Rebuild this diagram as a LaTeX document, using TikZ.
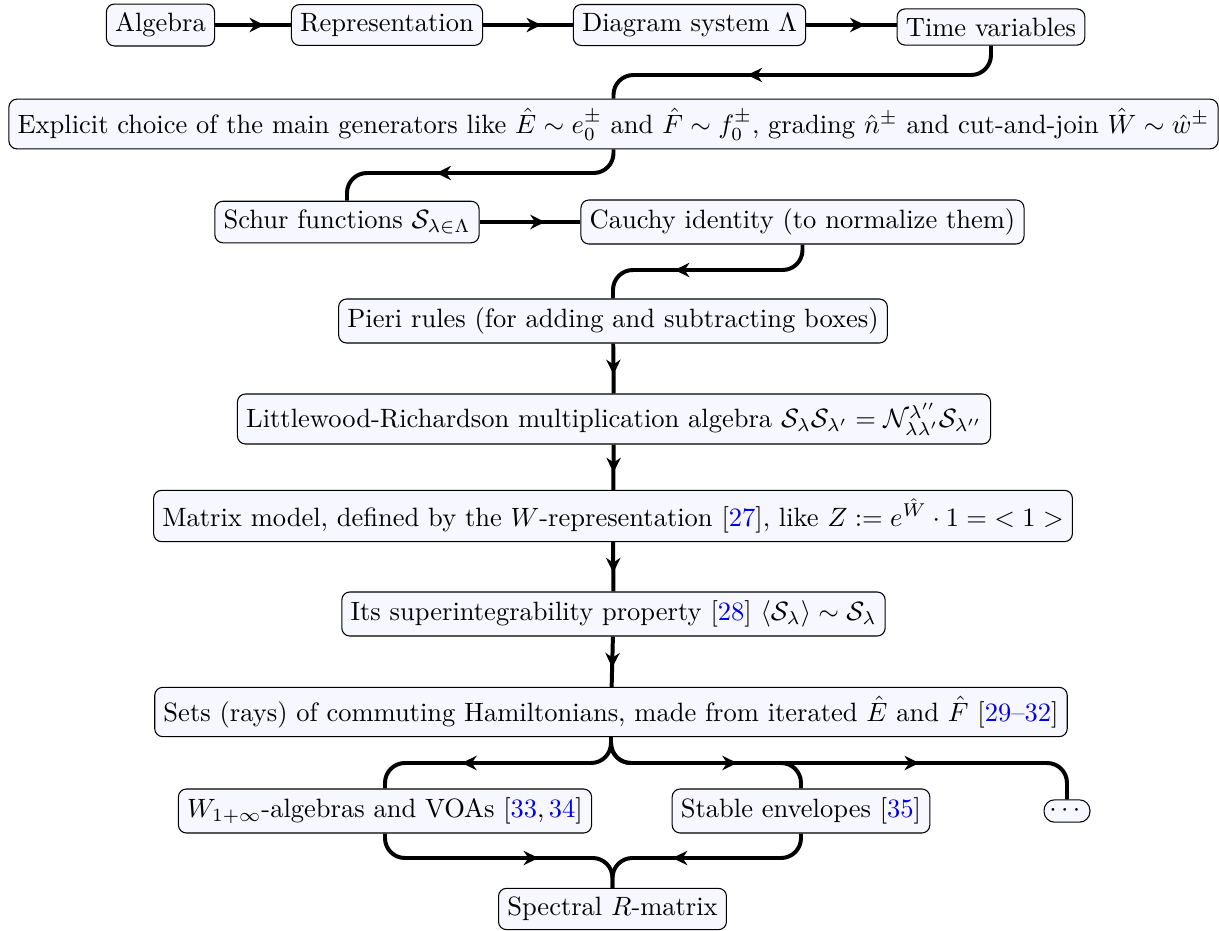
\documentclass[tikz,border=0pt]{standalone}
\usepackage{tikz}
\usetikzlibrary{calc}
\usetikzlibrary{arrows.meta}
\usetikzlibrary{decorations.markings}
\usepackage{color}
\definecolor{boxfill}{RGB}{246, 247, 255}
\definecolor{citeblue}{RGB}{0, 0, 230}
\usepackage{amsmath}
\newcommand{\refn}[1]{[\textcolor{citeblue}{#1}]}

\begin{document}
\begin{tikzpicture}[x=0.3773pt, y=-0.3773pt,
    block/.style={draw, rounded corners=3pt, fill=boxfill, inner sep=3.3pt},
    flow/.style={line width=1.5pt, rounded corners=7.5pt, postaction={decorate},
        decoration={markings, mark=at position #1 with {\arrow{Stealth[length=5.6pt,width=5.4pt,inset=1.8pt]}}}},
    flow/.default=0.64]
    \useasboundingbox (0,0) rectangle (1219,931);
    \node[block] (algebra) at ( 160.5, 25) {Algebra};
    \node[block] (repr)    at ( 387.0, 25) {Representation};
    \node[block] (diag)    at ( 689.5, 25) {Diagram system $\Lambda$};
    \node[block] (time)    at ( 991.0, 27) {Time variables};
    \node[block] (expl)    at ( 613.5,124) {Explicit choice of the main generators like $\hat{E}\sim e_0^{\pm}$ and $\hat{F}\sim f_0^{\pm}$, grading $\hat{n}^{\pm}$ and cut-and-join $\hat{W}\sim\hat{w}^{\pm}$};
    \node[block] (schur)   at ( 347.0,222) {Schur functions $\mathcal{S}_{\lambda\in\Lambda}$};
    \node[block] (cauchy)  at ( 802.5,222) {Cauchy identity (to normalize them)};
    \node[block] (pieri)   at ( 613.0,321) {Pieri rules (for adding and subtracting boxes)};
    \node[block] (lr)      at ( 614.0,419) {Littlewood-Richardson multiplication algebra $\mathcal{S}_{\lambda}\mathcal{S}_{\lambda'}=\mathcal{N}_{\lambda\lambda'}^{\lambda''}\mathcal{S}_{\lambda''}$};
    \node[block] (mm)      at ( 613.0,516) {Matrix model, defined by the $W$-representation \refn{27}, like $Z:=e^{\hat{W}}\cdot 1=\;<1>$};
    \node[block] (superint)at ( 613.5,614) {Its superintegrability property \refn{28} $\langle\mathcal{S}_{\lambda}\rangle\sim\mathcal{S}_{\lambda}$};
    \node[block] (sets)    at ( 611.0,712) {Sets (rays) of commuting Hamiltonians, made from iterated $\hat{E}$ and $\hat{F}$ \refn{29--32}};
    \node[block] (walg)    at ( 385.0,811) {$W_{1+\infty}$-algebras and VOAs [\textcolor{citeblue}{33},\,\textcolor{citeblue}{34}]};
    \node[block] (stable)  at ( 801.0,811) {Stable envelopes \refn{35}};
    \node[block, inner sep=2pt, rounded corners=4pt] (dots) at (1067.0,811) {$\cdots$};
    \node[block] (rmat)    at ( 612.5,909) {Spectral $R$-matrix};
    \coordinate (row1) at (0, 75);
    \coordinate (row2) at (0,173);
    \coordinate (row3) at (0,270);
    \coordinate (row4) at (0,763);
    \coordinate (row5) at (0,858);
    \draw[flow=0.65] (algebra) -- (repr);
    \draw[flow=0.65] (repr) -- (diag);
    \draw[flow=0.65] (diag.east) -- (diag.east -| time.west);
    \draw[flow] (time.south) -- (time.south |- row1) -- (expl.north |- row1) -- (expl.north);
    \draw[flow] (expl.south) -- (expl.south |- row2) -- (schur.north |- row2) -- (schur.north);
    \draw[flow=0.65] (schur) -- (cauchy);
    \draw[flow] (cauchy.south) -- (cauchy.south |- row3) -- (pieri.north |- row3) -- (pieri.north);
    \draw[flow=0.62] (pieri) -- (lr);
    \draw[flow=0.62] (lr) -- (mm);
    \draw[flow=0.62] (mm) -- (superint);
    \draw[flow=0.62] (superint) -- (sets);
    \draw[flow] (sets.south) -- (sets.south |- row4) -- (walg.north |- row4) -- (walg.north);
    \draw[flow] (sets.south) -- (sets.south |- row4) -- (stable.north |- row4) -- (stable.north);
    \draw[flow=0.65] (sets.south) -- (sets.south |- row4) -- (dots.north |- row4) -- (dots.north);
    \draw[flow] (walg.south) -- (walg.south |- row5) -- (rmat.north |- row5) -- (rmat.north);
    \draw[flow] (stable.south) -- (stable.south |- row5) -- (rmat.north |- row5) -- (rmat.north);
\end{tikzpicture}
\end{document}
